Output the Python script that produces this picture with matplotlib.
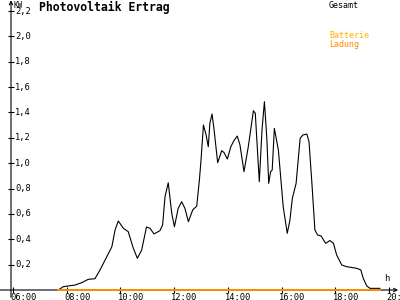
import matplotlib
matplotlib.use('Agg')
import matplotlib.pyplot as plt

# Gesamt (kW) ueber Uhrzeit (h)
gesamt_h = [7.69, 7.87, 8.12, 8.31, 8.56, 8.80, 9.05, 9.24, 9.43, 9.68, 9.80, 9.92,
            10.11, 10.29, 10.48, 10.63, 10.79, 10.97, 11.10, 11.25, 11.47, 11.57, 11.66,
            11.78, 11.91, 12.01, 12.15, 12.28, 12.40, 12.53, 12.69, 12.84, 12.94, 13.00,
            13.09, 13.19, 13.27, 13.33, 13.41, 13.48, 13.62, 13.77, 13.86, 13.98, 14.11,
            14.23, 14.35, 14.45, 14.60, 14.76, 14.95, 15.02, 15.17, 15.27, 15.36, 15.45,
            15.52, 15.59, 15.65, 15.73, 15.88, 16.06, 16.21, 16.31, 16.40, 16.54, 16.69,
            16.79, 16.94, 17.02, 17.12, 17.24, 17.34, 17.47, 17.64, 17.80, 17.93, 18.05,
            18.24, 18.42, 18.80, 18.95, 19.04, 19.17, 19.29, 19.66]
gesamt_kw = [0.0, 0.026, 0.034, 0.039, 0.058, 0.084, 0.089, 0.158, 0.237, 0.341, 0.473, 0.544,
             0.487, 0.460, 0.329, 0.250, 0.315, 0.497, 0.487, 0.442, 0.468, 0.513, 0.736,
             0.846, 0.605, 0.499, 0.644, 0.696, 0.644, 0.539, 0.631, 0.662, 0.868, 1.025,
             1.301, 1.222, 1.130, 1.315, 1.388, 1.275, 1.004, 1.099, 1.083, 1.033, 1.130,
             1.180, 1.214, 1.144, 0.933, 1.130, 1.414, 1.394, 0.854, 1.262, 1.485, 1.196,
             0.841, 0.933, 0.946, 1.275, 1.104, 0.657, 0.447, 0.552, 0.723, 0.841, 1.196,
             1.222, 1.230, 1.170, 0.868, 0.473, 0.434, 0.426, 0.368, 0.390, 0.368, 0.276,
             0.197, 0.184, 0.171, 0.158, 0.092, 0.032, 0.013, 0.013]

# Batterie Ladung (kW)
ladung_h = [7.69, 19.66]
ladung_kw = [0.0, 0.0]

y_ticks = [0.2, 0.4, 0.6, 0.8, 1.0, 1.2, 1.4, 1.6, 1.8, 2.0, 2.2]
x_ticks = [6, 8, 10, 12, 14, 16, 18, 20]
x_labels = ['06:00', '08:00', '10:00', '12:00', '14:00', '16:00', '18:00', '20:00']

BATT = '#FFB000'
LAD = '#FF8C00'
MONO = 'DejaVu Sans Mono'

# pixel mapping of the original: 06:00 at x=13, 26.86 px/h; 0 kW at y=290, 126.8 px/kW
PXH, PXKW = 26.86, 126.8
x0 = 6 - 13 / PXH
x1 = 6 + 387 / PXH
y0 = -10 / PXKW
y1 = 290 / PXKW
yaxis_x = 6 - 2 / PXH

fig = plt.figure(figsize=(4, 3), dpi=100)
ax = fig.add_axes([0, 0, 1, 1])
ax.set_xlim(x0, x1)
ax.set_ylim(y0, y1)
ax.patch.set_visible(False)

ax.plot(gesamt_h, gesamt_kw, color='black', lw=0.8, zorder=3)
ax.plot(ladung_h, ladung_kw, color=LAD, lw=1.4, zorder=4)

# axes with arrows
for s in ax.spines.values():
    s.set_visible(False)
ax.annotate('', xy=(yaxis_x, 2.285), xytext=(yaxis_x, -0.057),
            arrowprops=dict(arrowstyle='->', lw=0.8, color='black', shrinkA=0, shrinkB=0,
                            mutation_scale=6))
ax.annotate('', xy=(x1 - 0.07, 0), xytext=(x0, 0),
            arrowprops=dict(arrowstyle='->', lw=0.8, color='black', shrinkA=0, shrinkB=0,
                            mutation_scale=6))

# tick marks
ax.spines['left'].set_position(('data', yaxis_x))
ax.spines['bottom'].set_position(('data', 0))
ax.set_yticks(y_ticks)
ax.set_xticks(x_ticks)
ax.tick_params(axis='both', direction='inout', length=5, width=0.8,
               labelleft=False, labelbottom=False)

for v in y_ticks:
    ax.annotate(f'{v:.1f}'.replace('.', ','), (yaxis_x, v), xytext=(3, 0),
                textcoords='offset points', ha='left', va='center',
                fontsize=6.3, family=MONO)
for h, lab in zip(x_ticks, x_labels):
    ax.annotate(lab, (h, 0), xytext=(-2, -1.8), textcoords='offset points',
                ha='left', va='top', fontsize=6.3, family=MONO)

fig.text(13 / 400, 1 - 1 / 300, 'KW', ha='left', va='top', fontsize=5.5, family=MONO)
fig.text(384 / 400, 1 - 274 / 300, 'h', ha='left', va='top', fontsize=6.3, family=MONO)
fig.text(39 / 400, 1 - 1 / 300, 'Photovoltaik Ertrag', ha='left', va='top',
         fontsize=8.3, fontweight='bold', family=MONO)
fig.text(329 / 400, 1 - 1 / 300, 'Gesamt', ha='left', va='top', fontsize=6, family=MONO)
fig.text(329 / 400, 1 - 31 / 300, 'Batterie', ha='left', va='top', fontsize=6,
         family=MONO, color=BATT)
fig.text(329 / 400, 1 - 40 / 300, 'Ladung', ha='left', va='top', fontsize=6,
         family=MONO, color=LAD)

fig.savefig('out.png', dpi=100, facecolor='white')
